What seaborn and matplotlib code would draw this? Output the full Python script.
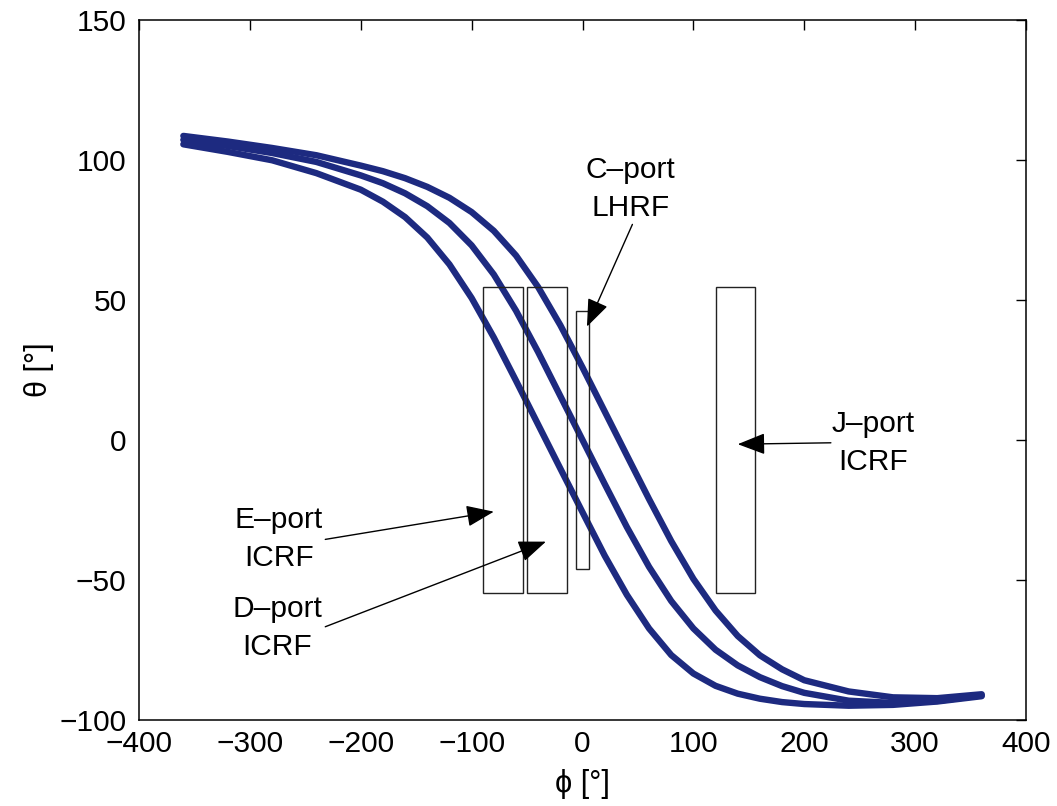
import numpy as np
import pandas as pd
import matplotlib
matplotlib.use('Agg')
import matplotlib.pyplot as plt
from matplotlib.patches import Rectangle
import seaborn as sns

phi = [-360, -320, -280, -240, -200, -180, -160, -140, -120, -100, -80, -60, -40, -20, 0,
       20, 40, 60, 80, 100, 120, 140, 160, 180, 200, 240, 280, 320, 360]

theta_left = [105.6, 102.9, 99.9, 95.3, 89.4, 85.1, 79.6, 72.3, 62.7, 50.7, 36.6, 21.2, 5.5, -10.2, -25.8,
              -41.3, -55.3, -67.3, -76.8, -83.4, -87.8, -90.6, -92.4, -93.6, -94.3, -94.9, -94.6, -93.4, -91.5]
theta_mid = [107.2, 105.0, 102.5, 99.3, 94.5, 91.7, 88.1, 83.5, 77.5, 69.5, 59.1, 46.2, 31.4, 15.7, 0.0,
             -15.7, -31.1, -45.3, -57.5, -67.3, -74.9, -80.5, -84.7, -87.9, -90.3, -93.1, -93.9, -93.2, -91.2]
theta_right = [108.6, 106.6, 104.3, 101.7, 98.0, 96.0, 93.5, 90.4, 86.5, 81.4, 74.7, 65.9, 54.6, 41.0, 25.9,
               10.2, -5.5, -21.1, -36.1, -49.6, -60.9, -70.0, -76.9, -81.9, -85.8, -89.8, -91.9, -92.2, -90.8]

# antenna port boxes: phi range and theta range
port_phi_lo = [-90, -50, -6, 120]
port_phi_hi = [-54, -14, 6, 156]
port_theta_lo = [-54.5, -54.5, -46, -54.5]
port_theta_hi = [54.5, 54.5, 46, 54.5]

# annotation labels: text, text centre, arrow tail, arrow tip
label_text = ['C\u2013port\nLHRF', 'J\u2013port\nICRF', 'E\u2013port\nICRF', 'D\u2013port\nICRF']
label_xy = [(43, 89.6), (262, -1.1), (-274, -35.4), (-275, -67.3)]
label_tail = [(45, 77), (224, -1), (-232, -35.5), (-232, -66.7)]
label_tip = [(4, 40.5), (140, -1.5), (-80, -25.6), (-33, -36.3)]

df = pd.concat([
    pd.DataFrame({'phi': phi, 'theta': theta_left, 'line': 'a'}),
    pd.DataFrame({'phi': phi, 'theta': theta_mid, 'line': 'b'}),
    pd.DataFrame({'phi': phi, 'theta': theta_right, 'line': 'c'}),
])

sns.set_style('white')
plt.rcParams['font.family'] = ['Liberation Sans', 'DejaVu Sans']
plt.rcParams['text.color'] = 'black'
plt.rcParams['axes.labelcolor'] = 'black'
plt.rcParams['xtick.color'] = 'black'
plt.rcParams['ytick.color'] = 'black'

fig = plt.figure(figsize=(10.57, 8.06), dpi=100)
ax = fig.add_axes([0.1315, 0.1067, 0.8392, 0.8685])

sns.lineplot(data=df, x='phi', y='theta', hue='line', units='line', estimator=None,
             palette=['#1d2a80'] * 3, linewidth=4.6, legend=False, ax=ax)

for lo, hi, tlo, thi in zip(port_phi_lo, port_phi_hi, port_theta_lo, port_theta_hi):
    ax.add_patch(Rectangle((lo, tlo), hi - lo, thi - tlo, fill=False,
                           edgecolor='#222222', linewidth=1.0, zorder=3))

for txt, xy, tail, tip in zip(label_text, label_xy, label_tail, label_tip):
    ax.text(xy[0], xy[1], txt, ha='center', va='center', fontsize=21.5, linespacing=1.45)
    ax.annotate('', xy=tip, xytext=tail,
                arrowprops=dict(arrowstyle='-|>,head_length=0.9,head_width=0.35',
                                color='black', lw=1.0, mutation_scale=19,
                                shrinkA=0, shrinkB=0))

ax.set_xlim(-400, 400)
ax.set_ylim(-100, 150)
ax.set_xticks(np.arange(-400, 401, 100))
ax.set_yticks(np.arange(-100, 151, 50))
ax.tick_params(direction='in', top=True, right=True, length=7, width=1,
               labelsize=21.5)
ax.tick_params(axis='x', pad=7)
ax.tick_params(axis='y', pad=9)
ax.set_xlabel('\u03d5 [\u00b0]', fontsize=22, labelpad=8)
ax.set_ylabel('\u03b8 [\u00b0]', fontsize=22, labelpad=4)
for s in ax.spines.values():
    s.set_visible(True)
    s.set_color('black')
    s.set_linewidth(1.1)

fig.savefig('out.png', dpi=100)
